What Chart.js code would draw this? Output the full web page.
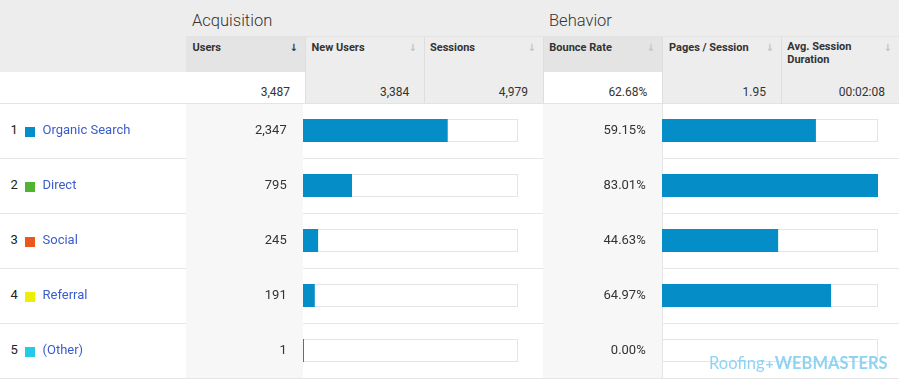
<!DOCTYPE html>
<html>
<head>
<meta charset="utf-8">
<script src="https://cdn.jsdelivr.net/npm/chart.js@4.4.0/dist/chart.umd.min.js"></script>
<style>
  html, body { margin: 0; padding: 0; background: #fff; }
  #wrap { position: relative; width: 899px; height: 381px; overflow: hidden; background: #fff; font-family: Roboto, Arial, sans-serif; }
  #wrap div { position: absolute; white-space: nowrap; }
  canvas { position: absolute; }
</style>
</head>
<body>
<div id="wrap">
  <canvas id="usersBars" width="215" height="275" style="left:303px;top:103px"></canvas>
  <canvas id="bounceBars" width="216" height="275" style="left:662px;top:103px"></canvas>
</div>
<script>
// table data
const channels = ['Organic Search', 'Direct', 'Social', 'Referral', '(Other)'];
const users = [2347, 795, 245, 191, 1];
const bounceRates = [59.15, 83.01, 44.63, 64.97, 0.00];
const groups = ['Acquisition', 'Behavior'];
const columns = ['Users', 'New Users', 'Sessions', 'Bounce Rate', 'Pages / Session', 'Avg. Session Duration'];
const totals = ['3,487', '3,384', '4,979', '62.68%', '1.95', '00:02:08'];
const totalUsers = 3487;

const swatches = ['#058dc7', '#50b432', '#ed561b', '#edef00', '#24cbe5'];

const wrap = document.getElementById('wrap');

function rect(x, y, w, h, bg) {
    const d = document.createElement('div');
    d.style.cssText = `left:${x}px;top:${y}px;width:${w}px;height:${h}px;background:${bg}`;
    wrap.insertBefore(d, wrap.firstChild);
    return d;
}
function text(str, x, base, size, opts) {
    opts = opts || {};
    const d = document.createElement('div');
    const top = base - size * 0.84;
    let css = `top:${top}px;font-size:${size}px;line-height:${size}px;color:${opts.color || '#333'};font-weight:${opts.weight || 400};`;
    if (opts.align === 'right') css += `right:${899 - x}px;text-align:right;`;
    else css += `left:${x}px;`;
    if (opts.family) css += `font-family:${opts.family};`;
    d.style.cssText = css;
    d.innerHTML = str;
    wrap.appendChild(d);
    return d;
}

// ----- header backgrounds -----
const headEdges = [186, 305, 424, 543, 662, 781, 899];
rect(0, 0, 899, 36, '#ededed');
rect(0, 36, 186, 36, '#ededed');
rect(0, 36, 899, 1, '#e3e3e3');
for (let i = 0; i < 6; i++) {
    const x = headEdges[i] + (i === 0 ? 0 : 1);
    const w = headEdges[i + 1] - x;
    const sorted = (i === 0 || i === 3);
    rect(x, 37, w, 35, sorted ? '#e4e4e4' : '#ededed');
    rect(x, 72, w, 31, sorted ? '#ffffff' : '#ededed');
    if (i > 0) rect(headEdges[i], 37, 1, 66, '#dedede');
}
rect(186, 0, 1, 36, '#f4f4f4');
rect(543, 0, 1, 36, '#f4f4f4');
rect(186, 37, 1, 66, '#e6e6e6');
rect(0, 103, 899, 1, '#e3e3e3');

// ----- body backgrounds -----
rect(186, 104, 117, 274, '#f7f7f7');
rect(543, 104, 119, 274, '#f7f7f7');
rect(186, 104, 1, 274, '#e6e6e6');
rect(302, 104, 1, 274, '#e6e6e6');
rect(543, 104, 1, 274, '#e6e6e6');
rect(662, 104, 1, 274, '#e6e6e6');
for (let r = 1; r <= 5; r++) rect(0, 103 + r * 55, 899, 1, '#e6e6e6');

// ----- header texts -----
text(groups[0], 192, 27.3, 16.5, { weight: 300, color: '#333' });
text(groups[1], 549, 27.3, 16.5, { weight: 300, color: '#333' });
const headLeft = [192.5, 311.5, 430, 549.3, 669, 787.3];
columns.forEach((c, i) => {
    const label = c === 'Avg. Session Duration' ? 'Avg. Session<br>Duration' : c;
    const d = text(label, headLeft[i], 51.3, 11, { weight: 700, color: '#333' });
    if (i === 5) d.style.lineHeight = '12.7px', d.style.top = (51.3 - 11 * 0.84 - 0.8) + 'px';
    text('&#8595;', headEdges[i + 1] - 7, 51.5, 10, {
        align: 'right', weight: 700, color: i === 0 ? '#333' : '#c4c4c4', family: '"DejaVu Sans"'
    });
});
const totalRight = [290, 409.3, 528, 647.3, 766, 885];
totals.forEach((t, i) => text(t, totalRight[i], 96.3, 12, { align: 'right', color: '#333' }));

// ----- row texts -----
channels.forEach((name, i) => {
    const base = 134.2 + i * 55;
    text(String(i + 1), 10.5, base, 13, { color: '#222' });
    const sq = rect(25, 126.5 + i * 55, 10, 10, swatches[i]);
    wrap.appendChild(sq);
    text(name, 42.5, base, 13, { color: '#3a5ccc' });
    text(users[i].toLocaleString('en-US'), 286.7, base, 13, { align: 'right', color: '#333' });
    text(bounceRates[i].toFixed(2) + '%', 645.7, base, 13, { align: 'right', color: '#333' });
});

// watermark
text('Roofing<span style="font-weight:700;font-size:14px;margin:0 1px 0 1px">+</span><b style="font-weight:700">WEBMASTERS</b>',
    709, 368.5, 16.5, { color: '#8fd3f1', family: 'Lato, Roboto, sans-serif' });

// ----- bar charts -----
function barChart(id, values, max, minLen) {
    return new Chart(document.getElementById(id), {
        type: 'bar',
        data: {
            labels: channels,
            datasets: [{
                data: values,
                backgroundColor: '#058dc7',
                borderWidth: 0,
                inflateAmount: 0,
                barThickness: 23,
                grouped: false,
                order: 0,
                minBarLength: minLen
            }, {
                // empty track behind each bar
                data: channels.map(() => max),
                backgroundColor: '#ffffff',
                borderColor: '#e4e4e4',
                borderWidth: 1,
                borderSkipped: false,
                inflateAmount: 0,
                barThickness: 23,
                grouped: false,
                order: 1
            }]
        },
        options: {
            indexAxis: 'y',
            responsive: false,
            animation: false,
            events: [],
            layout: { padding: 0 },
            plugins: { legend: { display: false }, tooltip: { enabled: false } },
            scales: {
                x: { display: false, min: 0, max: max },
                y: { display: false }
            }
        }
    });
}
barChart('usersBars', users, totalUsers, 1);
barChart('bounceBars', bounceRates, Math.max(...bounceRates), 0);
</script>
</body>
</html>
